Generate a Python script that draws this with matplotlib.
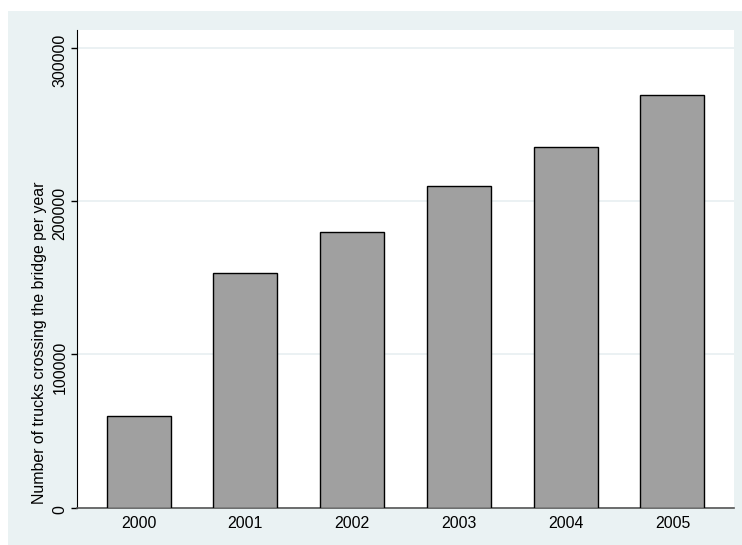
import matplotlib.pyplot as plt
from matplotlib.patches import Rectangle
from matplotlib.transforms import ScaledTranslation

years = ["2000", "2001", "2002", "2003", "2004", "2005"]
trucks = [60000, 153000, 180000, 210000, 235000, 269000]
y_ticks = [0, 100000, 200000, 300000]

W, H = 742, 545
BG = "#eaf2f3"
FS = 11.4

plt.rcParams["font.family"] = ["Liberation Sans", "DejaVu Sans"]

fig = plt.figure(figsize=(W / 100, H / 100), dpi=100)
fig.patch.set_facecolor("white")
# light outer graph region (Stata style)
fig.patches.append(Rectangle((8 / W, 0), (W - 8) / W, (H - 11) / H,
                             transform=fig.transFigure, facecolor=BG,
                             edgecolor="none", zorder=-10))

ax = fig.add_axes([77 / W, 1 - 507.7 / H, (734 - 77) / W, (507.7 - 30) / H])
ax.set_facecolor("white")

x = range(len(years))
ax.bar(x, trucks, width=0.6, color="#a0a0a0", edgecolor="black",
       linewidth=1.0, zorder=3)

ax.set_xlim(-0.577, 5.577)
ax.set_ylim(0, 311600)
ax.set_yticks(y_ticks)
ax.set_yticklabels([str(v) for v in y_ticks], rotation=90, va="center",
                   fontsize=FS)
ax.set_xticks(list(x))
ax.set_xticklabels(years, fontsize=FS)
ax.tick_params(axis="x", length=0, pad=6)
ax.tick_params(axis="y", length=4, width=1, pad=3)
ax.yaxis.grid(True, color="#e8eff1", linewidth=1.2, zorder=0)
ax.set_axisbelow(True)

# Stata places rotated labels a bit below the tick
for lab in ax.get_yticklabels():
    shift = 2.1 * len(lab.get_text())
    lab.set_transform(lab.get_transform()
                      + ScaledTranslation(0, -shift / 100, fig.dpi_scale_trans))

for side in ("top", "right"):
    ax.spines[side].set_visible(False)
ax.spines["left"].set_color("black")
ax.spines["bottom"].set_color("#555555")
ax.spines["bottom"].set_linewidth(1.2)

fig.text(39.5 / W, 1 - 343 / H, "Number of trucks crossing the bridge per year",
         rotation=90, ha="center", va="center", fontsize=FS)

fig.savefig("out.png", dpi=100)
